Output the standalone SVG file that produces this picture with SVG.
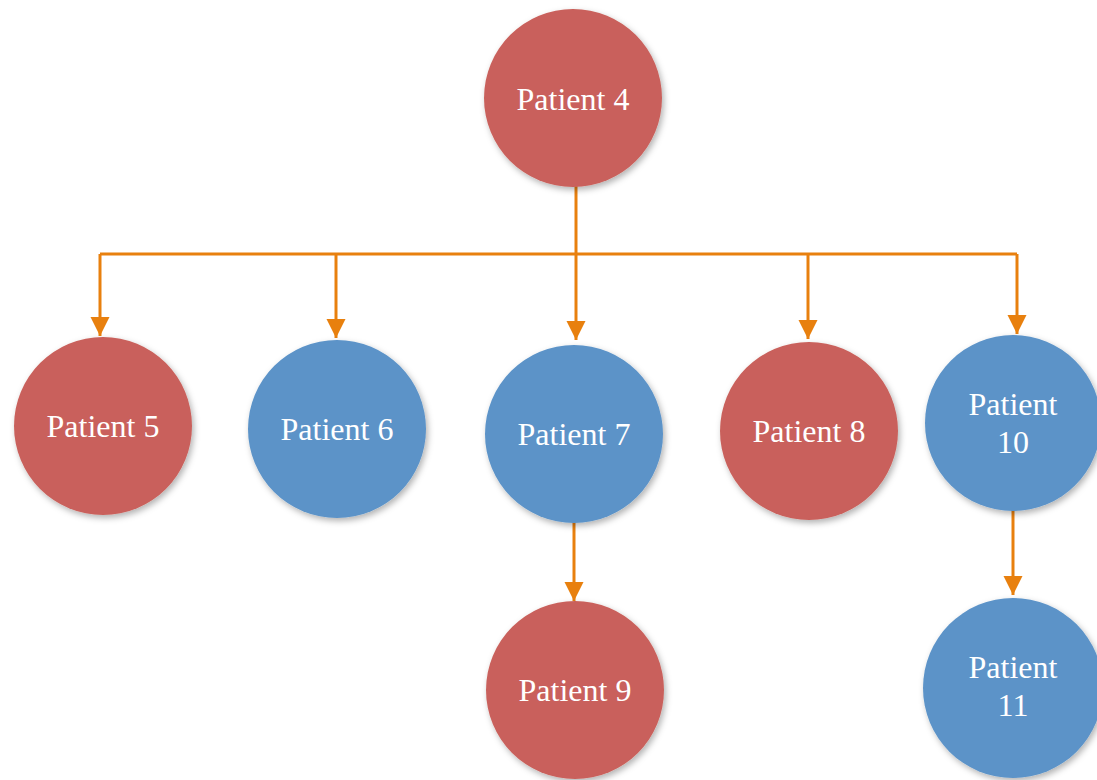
<svg xmlns="http://www.w3.org/2000/svg" width="1097" height="780" viewBox="0 0 1097 780">
<defs>
<filter id="sh" x="-20%" y="-20%" width="140%" height="140%">
<feDropShadow dx="2" dy="3" stdDeviation="3" flood-color="#000" flood-opacity="0.3"/>
</filter>
<marker id="ah" viewBox="0 0 10 10" refX="10" refY="5" markerWidth="6.5" markerHeight="6.5" markerUnits="strokeWidth" orient="auto">
<path d="M0,0 L10,5 L0,10 z" fill="#E8800E"/>
</marker>
<style>
.red{fill:#C9615B;filter:url(#sh)}
.blue{fill:#5C93C8;filter:url(#sh)}
.lbl{font-family:'Liberation Serif',serif;font-size:32px;fill:#fff;text-anchor:middle}
.c{stroke:#E8800E;stroke-width:3;fill:none}
</style>
</defs>
<rect width="1097" height="780" fill="#fff"/>
<g id="connectors">
<path class="c" d="M576,185 V254"/>
<path class="c" d="M100,254 H1017"/>
<path class="c" d="M100,254 V336" marker-end="url(#ah)"/>
<path class="c" d="M336,254 V338" marker-end="url(#ah)"/>
<path class="c" d="M576,254 V340" marker-end="url(#ah)"/>
<path class="c" d="M808,254 V339" marker-end="url(#ah)"/>
<path class="c" d="M1017,254 V334" marker-end="url(#ah)"/>
<path class="c" d="M574,522 V601" marker-end="url(#ah)"/>
<path class="c" d="M1013,510 V595" marker-end="url(#ah)"/>
</g>
<g font-family="Liberation Serif, serif">
<g id="p4"><circle class="red" cx="573" cy="98" r="89"/><text class="lbl" font-family="Liberation Serif, serif" x="573" y="110">Patient 4</text></g>
<g id="p5"><circle class="red" cx="103" cy="426" r="89"/><text class="lbl" font-family="Liberation Serif, serif" x="103" y="437">Patient 5</text></g>
<g id="p6"><circle class="blue" cx="337" cy="429" r="89"/><text class="lbl" font-family="Liberation Serif, serif" x="337" y="440">Patient 6</text></g>
<g id="p7"><circle class="blue" cx="574" cy="434" r="89"/><text class="lbl" font-family="Liberation Serif, serif" x="574" y="445">Patient 7</text></g>
<g id="p8"><circle class="red" cx="809" cy="431" r="89"/><text class="lbl" font-family="Liberation Serif, serif" x="809" y="442">Patient 8</text></g>
<g id="p10"><circle class="blue" cx="1013" cy="423" r="88"/><text class="lbl" font-family="Liberation Serif, serif" x="1013" y="415">Patient</text><text class="lbl" font-family="Liberation Serif, serif" x="1013" y="453">10</text></g>
<g id="p9"><circle class="red" cx="575" cy="690" r="89"/><text class="lbl" font-family="Liberation Serif, serif" x="575" y="701">Patient 9</text></g>
<g id="p11"><circle class="blue" cx="1013" cy="688" r="90"/><text class="lbl" font-family="Liberation Serif, serif" x="1013" y="678">Patient</text><text class="lbl" font-family="Liberation Serif, serif" x="1013" y="716">11</text></g>
</g>
</svg>
